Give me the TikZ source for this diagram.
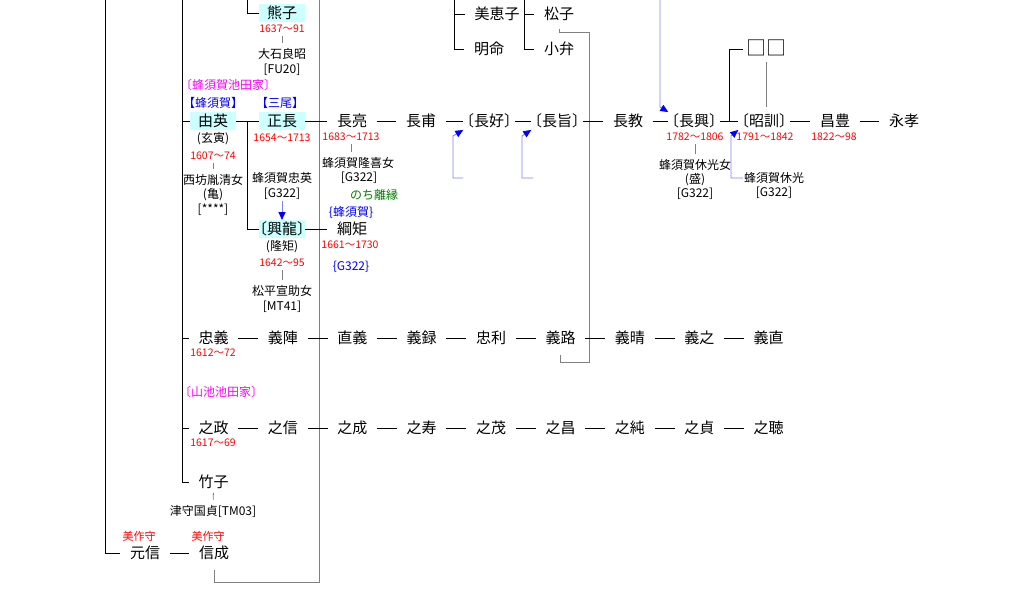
\documentclass[tikz,border=0pt]{standalone}
\usepackage{fontspec}
\setmainfont{Noto Sans CJK JP}
\usetikzlibrary{
  arrows.meta,
  calc,
  positioning,
}
\definecolor{hlcyan}{HTML}{CCFFFF}
\definecolor{yrred}{HTML}{FF0000}
\definecolor{tblue}{HTML}{0000FF}
\definecolor{lblue}{HTML}{8080FF}
\definecolor{mag}{HTML}{FF00FF}
\definecolor{dgreen}{HTML}{008000}
\definecolor{gline}{HTML}{808080}
\newcommand\obk{\kern-.5em〔}
\newcommand\cbk{〕\kern-.5em}
\newcommand\olb{\kern-.5em【}
\newcommand\clb{】\kern-.5em}
\tikzset{
  nm/.style={inner xsep=9.5pt,inner ysep=2pt,text height=12pt,text depth=1.5pt,font=\fontsize{15}{15}\selectfont},
  br/.style={nm,inner xsep=3pt},
  hl/.style={nm,fill=hlcyan,inner xsep=0pt,minimum width=46pt},
  yr/.style={text=yrred,inner sep=1pt,font=\fontsize{10.5}{10.5}\selectfont},
  sm/.style={inner sep=1pt,font=\fontsize{12}{12}\selectfont},
  ln/.style={line width=0.8pt},
  gl/.style={draw=gline,line width=0.8pt},
  tk/.style={gl,shorten <=2pt,shorten >=4pt},
  barr/.style={draw=lblue,line width=0.9pt,-{Triangle[length=8pt,width=7pt,color=tblue]}},
}
\begin{document}
\begin{tikzpicture}[x=1pt,y=-1pt,node distance=0pt and 20pt]

        \path[use as bounding box,fill=white] (0,0) rectangle (1031,609);

        \coordinate (tA) at (105,0);
        \coordinate (tB) at (182,0);
        \coordinate (tC) at (247,0);
        \coordinate (tD) at (454,0);
        \coordinate (tE) at (524,0);
        \coordinate (tG) at (319,0);
        \coordinate (grBot) at (319,582);
        \coordinate (grTop) at (589,32);
        \coordinate (grLow) at (589,362);
        \coordinate (arY) at (463,178);
        \coordinate (arYc) at (453,136);
        \coordinate (arM) at (533,178);
        \coordinate (arMc) at (522,136);
        \coordinate (arO) at (660,0);
        \coordinate (arOc) at (660,107);
        \coordinate (arKc) at (731,136);

        \node[hl] (kumako) at (282,13) {熊子};
        \node[yr] (yrKumako) at (282,29) {1637～91};
        \node[sm] (oishi) at (282,54) {大石良昭};
        \node[sm] (fuA) at (282,70) {[FU20]};

        \node[nm] (mieko) at (497,14) {美恵子};
        \node[nm] (meimei) at (489,49) {明命};
        \node[nm] (matsuko) at (559,14) {松子};
        \node[nm] (koben) at (559,49) {小弁};
        \node[nm,inner xsep=3pt,text height=15pt,text depth=1pt,font=\fontsize{20}{20}\selectfont] (kakuji) at (766,49) {□□};

        \node[sm,text=mag] (hachiIke) at (228,85) {\obk 蜂須賀池田家\cbk};
        \node[sm,text=tblue] (tagHachi) at (213,103) {\olb 蜂須賀\clb};
        \node[sm,text=tblue] (tagMio) at (280,103) {\olb 三尾\clb};

        \node[hl] (yuei) at (213,121) {由英};
        \node[hl] (masanaga) at (282,121) {正長};
        \node[nm] (nagaaki) at (352,121) {長亮};
        \node[nm] (nagasuke) at (421,121) {長甫};
        \node[br] (nagayoshi) at (489,121) {\obk 長好\cbk};
        \node[br] (nagamune) at (557,121) {\obk 長旨\cbk};
        \node[nm] (naganori) at (628,121) {長教};
        \node[br] (nagaoki) at (694,121) {\obk 長興\cbk};
        \node[br] (akinori) at (764,121) {\obk 昭訓\cbk};
        \node[nm] (masatoyo) at (835,121) {昌豊};
        \node[nm] (nagataka) at (904,121) {永孝};

        \node[sm] (genin) at (213,139) {(玄寅)};
        \node[yr] (yrYuei) at (213,156) {1607～74};
        \node[sm] (nishibo) at (213,180) {西坊胤清女};
        \node[sm] (kame) at (213,195) {(亀)};
        \node[sm] (astA) at (213,210) {[****]};
        \node[yr] (yrMasanaga) at (282,138) {1654～1713};
        \node[sm] (tadahide) at (282,178) {蜂須賀忠英};
        \node[sm] (gA) at (282,194) {[G322]};
        \node[yr] (yrNagaaki) at (351,137) {1683～1713};
        \node[sm] (takayoshi) at (358,163) {蜂須賀隆喜女};
        \node[sm] (gB) at (359,178) {[G322]};
        \node[sm,text=dgreen] (rien) at (374,195) {のち離縁};
        \node[sm,text=tblue] (braHachi) at (351,212) {\{蜂須賀\}};
        \node[yr] (yrNagaoki) at (695,137) {1782～1806};
        \node[sm] (kyukoJo) at (695,165) {蜂須賀休光女};
        \node[sm] (sakari) at (695,180) {(盛)};
        \node[sm] (gC) at (695,194) {[G322]};
        \node[yr] (yrAkinori) at (765,137) {1791～1842};
        \node[sm] (kyuko) at (774,178) {蜂須賀休光};
        \node[sm] (gD) at (774,193) {[G322]};
        \node[yr] (yrMasatoyo) at (834,137) {1822～98};

        \node[hl] (kouryu) at (282,229) {\obk 興龍\cbk};
        \node[nm] (tsunanori) at (352,229) {綱矩};
        \node[sm] (takanori) at (282,247) {(隆矩)};
        \node[yr] (yrKouryu) at (282,263) {1642～95};
        \node[sm] (matsudaira) at (282,291) {松平宣助女};
        \node[sm] (mtA) at (282,307) {[MT41]};
        \node[yr] (yrTsunanori) at (350,245) {1661～1730};
        \node[sm,text=tblue] (gE) at (351,267) {\{G322\}};

        \node[nm] (tadayoshi) at (213.5,338) {忠義};
        \node[nm,right=of tadayoshi] (yoshitsura) {義陣};
        \node[nm,right=of yoshitsura] (naoyoshi) {直義};
        \node[nm,right=of naoyoshi] (yoshiroku) {義録};
        \node[nm,right=of yoshiroku] (tadatoshi) {忠利};
        \node[nm,right=of tadatoshi] (yoshimichi) {義路};
        \node[nm,right=of yoshimichi] (yoshiharu) {義晴};
        \node[nm,right=of yoshiharu] (yoshiyuki) {義之};
        \node[nm,right=of yoshiyuki] (yoshinao) {義直};
        \node[yr] (yrTadayoshi) at (213,353) {1612～72};

        \node[sm,text=mag] (yamaIke) at (221,392) {\obk 山池池田家\cbk};

        \node[nm] (yukimasa) at (213.5,428) {之政};
        \node[nm,right=of yukimasa] (yukinobu) {之信};
        \node[nm,right=of yukinobu] (yukinari) {之成};
        \node[nm,right=of yukinari] (yukihisa) {之寿};
        \node[nm,right=of yukihisa] (yukishige) {之茂};
        \node[nm,right=of yukishige] (yukiaki) {之昌};
        \node[nm,right=of yukiaki] (yukizumi) {之純};
        \node[nm,right=of yukizumi] (yukisada) {之貞};
        \node[nm,right=of yukisada] (yukitoshi) {之聴};
        \node[yr] (yrYukimasa) at (213,443) {1617～69};

        \node[nm] (takeko) at (213.5,482) {竹子};
        \node[sm] (tsumori) at (213,511) {津守国貞[TM03]};

        \node[yr,font=\fontsize{11}{11}\selectfont] (mimaA) at (139,536) {美作守};
        \node[yr,font=\fontsize{11}{11}\selectfont] (mimaB) at (208,536) {美作守};
        \node[nm] (motonobu) at (145,553) {元信};
        \node[nm] (nobushige) at (214,553) {信成};

        \draw[gl,shorten >=8pt] (tG) -- (grBot) -| (nobushige.south);
        \draw[gl,shorten <=6pt,shorten >=8pt] (matsuko.south) |- (grTop) -- (grLow) -| (yoshimichi.south);

        \draw[ln] (tA) |- (motonobu.west);
        \draw[ln] (motonobu.east) -- (nobushige.west);
        \draw[ln] (tB) |- (takeko.west);
        \draw[ln] (tB |- yuei.west) -- (yuei.west);
        \draw[ln] (tB |- tadayoshi.west) -- (tadayoshi.west);
        \draw[ln] (tB |- yukimasa.west) -- (yukimasa.west);
        \draw[ln] (tC) |- (kumako.west);
        \draw[ln] (yuei.east) -- (masanaga.west);
        \draw[ln] (tC |- yuei.east) |- (kouryu.west);
        \draw[ln] (kouryu.east) -- (tsunanori.west);
        \draw[ln] (tD) |- (meimei.west);
        \draw[ln] (tD |- mieko.west) -- (mieko.west);
        \draw[ln] (tE) |- (koben.west);
        \draw[ln] (tE |- matsuko.west) -- (matsuko.west);

        \draw[ln] (masanaga.east) -- (nagaaki.west);
        \draw[ln] (nagaaki.east) -- (nagasuke.west);
        \draw[ln] (nagasuke.east) -- (nagayoshi.west);
        \draw[ln] (nagayoshi.east) -- (nagamune.west);
        \draw[ln] (nagamune.east) -- (naganori.west);
        \draw[ln] (naganori.east) -- (nagaoki.west);
        \draw[ln] (nagaoki.east) -- (akinori.west);
        \draw[ln] (akinori.east) -- (masatoyo.west);
        \draw[ln] (masatoyo.east) -- (nagataka.west);
        \draw[ln] ($(nagaoki.east)!.5!(akinori.west)$) |- (kakuji.west);

        \draw[ln] (tadayoshi.east) -- (yoshitsura.west);
        \draw[ln] (yoshitsura.east) -- (naoyoshi.west);
        \draw[ln] (naoyoshi.east) -- (yoshiroku.west);
        \draw[ln] (yoshiroku.east) -- (tadatoshi.west);
        \draw[ln] (tadatoshi.east) -- (yoshimichi.west);
        \draw[ln] (yoshimichi.east) -- (yoshiharu.west);
        \draw[ln] (yoshiharu.east) -- (yoshiyuki.west);
        \draw[ln] (yoshiyuki.east) -- (yoshinao.west);

        \draw[ln] (yukimasa.east) -- (yukinobu.west);
        \draw[ln] (yukinobu.east) -- (yukinari.west);
        \draw[ln] (yukinari.east) -- (yukihisa.west);
        \draw[ln] (yukihisa.east) -- (yukishige.west);
        \draw[ln] (yukishige.east) -- (yukiaki.west);
        \draw[ln] (yukiaki.east) -- (yukizumi.west);
        \draw[ln] (yukizumi.east) -- (yukisada.west);
        \draw[ln] (yukisada.east) -- (yukitoshi.west);

        \draw[tk] (yrKumako.south) -- (oishi.north);
        \draw[tk] (yrYuei.south) -- (nishibo.north);
        \draw[tk] (yrNagaaki.south) -- (yrNagaaki.south |- takayoshi.north);
        \draw[tk] (yrKouryu.south) -- (matsudaira.north);
        \draw[tk] (yrNagaoki.south) -- (kyukoJo.north);
        \draw[tk] (takeko.south) -- (tsumori.north);
        \draw[gl,shorten <=3pt,shorten >=5pt] (kakuji.south) -- (kakuji.south |- akinori.north);

        \draw[barr] (gA.south) -- (kouryu.north);
        \draw[barr] (arY) -| (arYc) -- (nagayoshi.south west);
        \draw[barr] (arM) -| (arMc) -- (nagamune.south west);
        \draw[barr] (arO) -- (arOc) -- (nagaoki.north west);
        \draw[barr] (kyuko.west) -| (arKc) -- (akinori.south west);

      \end{tikzpicture}
\end{document}
